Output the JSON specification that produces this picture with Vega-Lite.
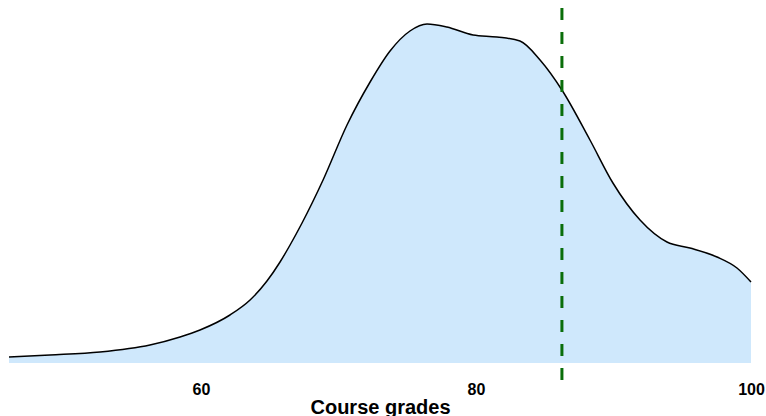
{
  "$schema": "https://vega.github.io/schema/vega-lite/v6.json",
  "width": 742,
  "height": 372,
  "padding": {"left": 9, "top": 8, "right": 15, "bottom": 36},
  "autosize": {"type": "none"},
  "background": "white",
  "config": {"view": {"stroke": null}, "font": "Liberation Sans"},
  "datasets": {
    "dens": [
      {"grade": 46.04, "density": 6},
      {"grade": 49.02, "density": 8},
      {"grade": 52.66, "density": 11},
      {"grade": 56.29, "density": 18},
      {"grade": 58.48, "density": 26},
      {"grade": 59.93, "density": 33},
      {"grade": 62.11, "density": 48},
      {"grade": 63.57, "density": 63},
      {"grade": 64.8, "density": 82},
      {"grade": 65.75, "density": 101},
      {"grade": 66.48, "density": 118},
      {"grade": 67.35, "density": 140},
      {"grade": 68.88, "density": 183},
      {"grade": 70.62, "density": 238},
      {"grade": 72.3, "density": 281},
      {"grade": 73.75, "density": 312},
      {"grade": 75.2, "density": 332},
      {"grade": 76.44, "density": 339},
      {"grade": 77.89, "density": 336},
      {"grade": 79.79, "density": 328},
      {"grade": 81.53, "density": 326},
      {"grade": 83.2, "density": 322},
      {"grade": 84.66, "density": 303},
      {"grade": 86.25, "density": 273},
      {"grade": 88.29, "density": 223},
      {"grade": 89.96, "density": 180},
      {"grade": 91.93, "density": 143},
      {"grade": 93.89, "density": 121},
      {"grade": 95.56, "density": 115},
      {"grade": 97.53, "density": 106},
      {"grade": 98.98, "density": 95},
      {"grade": 100, "density": 81}
    ],
    "mean": [{"grade": 86.25}]
  },
  "layer": [
    {
      "data": {"name": "dens"},
      "mark": {"type": "area", "interpolate": "monotone", "color": "#cfe8fc", "opacity": 1, "fillOpacity": 1, "line": {"color": "black", "strokeWidth": 1.5}},
      "encoding": {
        "x": {"field": "grade", "type": "quantitative", "scale": {"domain": [46.04, 100], "nice": false, "zero": false},
          "axis": {"values": [60, 80, 100], "domain": false, "ticks": false, "grid": false, "labelFlush": false, "labelOverlap": false, "labelFontSize": 16, "labelFontWeight": "bold", "labelColor": "black", "labelPadding": 1, "title": "Course grades", "titleFontSize": 20, "titleFontWeight": "bold", "titleColor": "black", "titlePadding": 0}},
        "y": {"field": "density", "type": "quantitative", "scale": {"domain": [-17, 355], "nice": false, "zero": false}, "axis": null}
      }
    },
    {
      "data": {"name": "mean"},
      "mark": {"type": "rule", "color": "#0a6e0a", "strokeWidth": 3, "strokeDash": [12, 12]},
      "encoding": {
        "x": {"field": "grade", "type": "quantitative"}
      }
    }
  ]
}
